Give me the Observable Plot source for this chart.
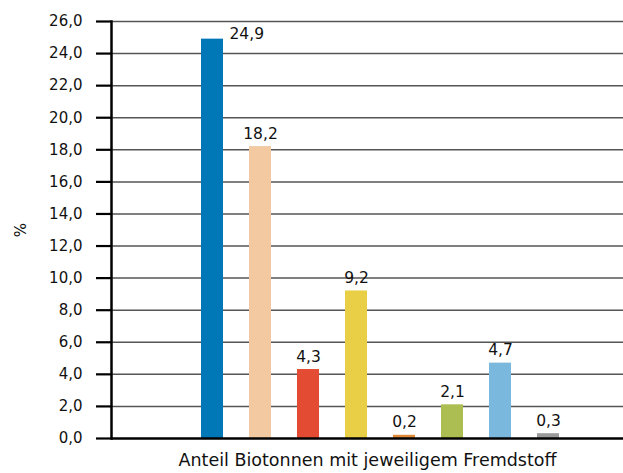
<!DOCTYPE html>
<html><head><meta charset="utf-8">
<script src="https://cdn.jsdelivr.net/npm/d3@7"></script>
<script src="https://cdn.jsdelivr.net/npm/@observablehq/plot@0.6"></script>
<style>body{margin:0;background:#fff}</style>
</head><body><div id="chart"></div>
<script>
const categories = ["A","B","C","D","E","F","G","H"];
const values = [24.9, 18.2, 4.3, 9.2, 0.2, 2.1, 4.7, 0.3];
const colors = ["#0077b6","#f2c9a1","#e34c32","#e9cf46","#e08a37","#acbd51","#7ab8de","#9a9a9a"];
const yTicks = d3.range(0, 26.01, 2);
const xTitle = "Anteil Biotonnen mit jeweiligem Fremdstoff";
const yTitle = "%";
const data = categories.map((c,i)=>({c, v: values[i], col: colors[i]}));
const fmt = v => d3.format(".1f")(v).replace(".", ",");
const chart = Plot.plot({
  width: 623, height: 473,
  marginLeft: 111, marginRight: 0, marginTop: 21, marginBottom: 35,
  style: {fontFamily: "DejaVu Sans, sans-serif", fontSize: "15px", color: "#111"},
  x: {domain: categories, range: [201, 559], paddingInner: 26/48, paddingOuter: 0, axis: null},
  y: {domain: [0, 26]},
  color: {type: "identity"},
  marks: [
    Plot.ruleY(yTicks.slice(1), {stroke: "#555", strokeWidth: 1.5}),
    Plot.barY(data, {x: "c", y: "v", fill: "col"}),
    Plot.ruleY([0], {stroke: "#000", strokeWidth: 2.5}),
    Plot.frame({anchor: "left", stroke: "#000", strokeWidth: 2.5}),
    Plot.axisY({ticks: yTicks, tickFormat: fmt, tickSize: 15, tickPadding: 14, strokeWidth: 2.2, stroke: "#000",
      label: yTitle, labelAnchor: "center", labelArrow: "none", labelOffset: 96, fontSize: 15}),
    Plot.text(data.slice(0,1), {x: "c", y: "v", text: d => fmt(d.v), textAnchor: "start", dx: 17, dy: -5, fontSize: 15.5}),
    Plot.text(data.slice(1), {x: "c", y: "v", text: d => fmt(d.v), dy: -13, fontSize: 15.5}),
    Plot.text([xTitle], {text: d => d, frameAnchor: "bottom", dy: 27, fontSize: 17.5})
  ]
});
document.getElementById("chart").appendChild(chart);
</script>
</body></html>
